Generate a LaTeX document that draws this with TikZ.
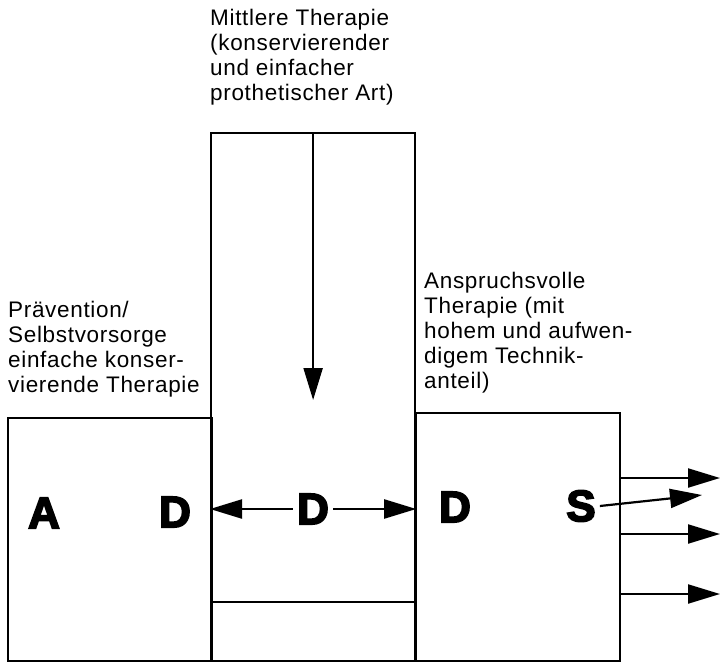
\documentclass[tikz,border=0pt]{standalone}
\usepackage{fontspec}
\setmainfont{Liberation Sans}
\newfontfamily\labelfont[LetterSpace=3]{Liberation Sans}
\newfontfamily\heavyfont{Liberation Sans}[UprightFont=* Bold, UprightFeatures={FakeBold=4}]
\usepackage{tikz}
\usetikzlibrary{arrows.meta, positioning}

\tikzset{
  box/.style={draw, line width=2.2pt, inner sep=0pt, anchor=north west},
  letter/.style={inner sep=4pt, font=\heavyfont\fontsize{44}{44}\selectfont},
  caption/.style={inner sep=0pt, anchor=north west, align=left,
    font=\labelfont\fontsize{22.5}{25}\selectfont},
  arr/.style={line width=2.2pt, -{Triangle[length=32pt,width=19pt]}}
}

\begin{document}
\begin{tikzpicture}[x=1pt,y=-1pt]
    \useasboundingbox (0,0) rectangle (721,664);

    % the three blocks
    \node[box, minimum width=204, minimum height=243] (lbox) at (7,417) {};
    \node[box, minimum width=204, minimum height=528] (mbox) at (210,132) {};
    \node[box, minimum width=204, minimum height=248] (rbox) at (415,412) {};
    \draw[line width=2.2pt] (mbox.west |- 0,602) -- (mbox.east |- 0,602);

    % captions
    \node[caption] (mtext) at (210,9) {Mittlere Therapie\\(konservierender\\und einfacher\\prothetischer Art)};
    \node[caption] (ltext) at (8,301) {Prävention/\\Selbstvorsorge\\einfache konser-\\vierende Therapie};
    \node[caption] (rtext) at (424,272) {Anspruchsvolle\\Therapie (mit\\hohem und aufwen-\\digem Technik-\\anteil)};

    % letters
    \node[letter] (a) at (44,513) {A};
    \node[letter] (dl) at (175,512) {D};
    \node[letter] (dm) at (313,509) {D};
    \node[letter] (dr) at (455,507) {D};
    \node[letter] (s) at (581,506) {S};

    % arrows
    \coordinate (down) at (mbox.north |- 0,400);
    \draw[arr] (mbox.north) -- (down);
    \draw[arr] (dm) -- (dm -| mbox.west);
    \draw[arr] (dm) -- (dm -| mbox.east);
    \coordinate (sout) at (702,495);
    \draw[arr] (s.east) -- (sout);
    \foreach \y/\n in {478/1, 534/2, 594/3}{
      \coordinate (out\n) at (720,\y);
      \draw[arr] (rbox.east |- out\n) -- (out\n);
    }
\end{tikzpicture}
\end{document}
